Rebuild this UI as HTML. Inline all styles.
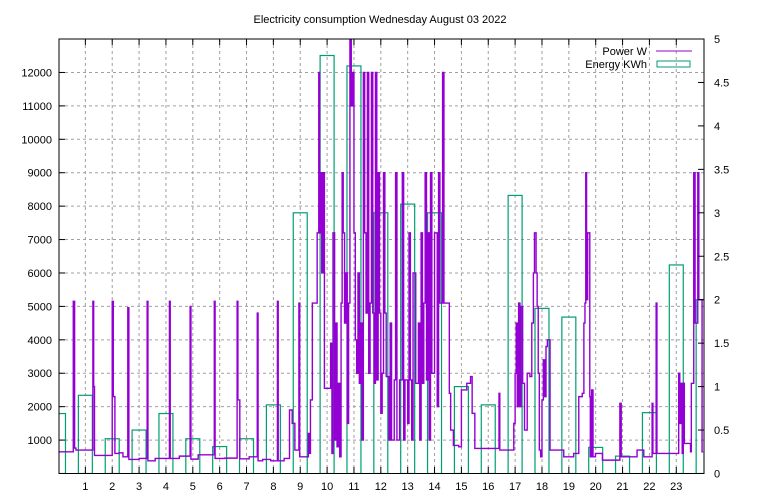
<!DOCTYPE html>
<html><head><meta charset="utf-8"><style>
body{margin:0;background:#fff}
svg{display:block;font-family:"Liberation Sans",sans-serif;font-size:11px}
</style></head><body>
<svg id="chart" width="768" height="500" viewBox="0 0 768 500" xmlns="http://www.w3.org/2000/svg">
<rect width="768" height="500" fill="#fff"/>
<text x="380" y="23" text-anchor="middle">Electricity consumption Wednesday August 03 2022</text>
<defs><clipPath id="plotclip"><rect x="59" y="39" width="645" height="435"/></clipPath></defs>
<g id="grid"></g>
<g id="energy" clip-path="url(#plotclip)"></g>
<g id="power" clip-path="url(#plotclip)"></g>
<rect x="59" y="39" width="645" height="434.5" fill="none" stroke="#000" stroke-width="1"/>
<g id="axes"></g>
<g>
<text x="647" y="55" text-anchor="end">Power W</text>
<line x1="656" y1="51" x2="692" y2="51" stroke="#9400d3" stroke-width="1"/>
<text x="647" y="68" text-anchor="end">Energy KWh</text>
<rect x="657" y="61" width="33" height="6" fill="none" stroke="#009e73" stroke-width="1"/>
</g>
</svg>
<script>
const xTicks=[1,2,3,4,5,6,7,8,9,10,11,12,13,14,15,16,17,18,19,20,21,22,23];
const yTicks=[1000,2000,3000,4000,5000,6000,7000,8000,9000,10000,11000,12000];
const y2Ticks=[0,0.5,1,1.5,2,2.5,3,3.5,4,4.5,5];
const y2Labels=["0","0.5","1","1.5","2","2.5","3","3.5","4","4.5","5"];
const energyHours=[0,1,2,3,4,5,6,7,8,9,10,11,12,13,14,15,16,17,18,19,20,21,22,23,24];
const energyKWh=[0.69,0.9,0.4,0.5,0.69,0.4,0.31,0.4,0.79,3.0,4.81,4.69,3.0,3.1,3.0,1.0,0.79,3.2,1.9,1.8,0.3,0.2,0.7,2.4,2.0];
const powerHours=[
0,0.55,0.6,0.65,0.8,1.28,1.31,1.34,1.95,2.0,2.04,2.1,2.25,2.4,2.58,2.62,2.8,3.0,
3.3,3.33,3.6,4.0,4.13,4.16,4.5,4.9,4.93,5.2,5.8,5.83,6.2,6.65,6.68,6.75,7.1,7.4,7.43,7.6,7.9,8.15,8.18,8.4,8.6,8.7,8.8,
8.95,8.98,9.05,9.3,9.33,9.38,9.45,9.63,9.69,9.72,
9.75,9.8,9.85,9.9,10.13,10.18,10.22,10.28,10.32,10.37,
10.42,10.47,10.52,10.56,10.6,10.65,10.7,10.75,10.8,10.85,
10.9,10.95,11.0,11.05,11.1,11.15,11.2,11.25,11.3,11.35,
11.4,11.45,11.5,11.55,11.6,11.65,11.7,11.75,11.8,11.85,
11.9,11.95,12.0,12.05,12.1,12.15,12.2,12.3,12.35,12.4,
12.5,12.55,12.6,12.7,12.8,12.85,12.9,13.0,13.05,13.1,
13.15,13.2,13.3,13.4,13.45,13.5,13.55,13.6,13.65,13.7,
13.75,13.8,13.85,13.9,14.0,14.1,14.15,14.2,14.3,14.35,
14.55,14.6,14.7,14.9,15.0,15.2,
15.34,15.4,15.5,16.4,16.43,16.95,17.0,17.04,17.08,17.13,
17.18,17.22,17.28,17.35,17.45,17.55,17.62,17.68,17.72,17.78,
17.82,17.86,17.9,17.95,18.0,18.05,18.1,18.15,18.2,18.3,
18.81,19.18,19.37,19.5,19.56,19.6,19.63,19.66,19.7,19.78,
19.8,19.85,19.9,19.99,20.25,20.85,20.9,20.95,21.54,21.79,
22.1,22.13,22.25,22.28,22.84,23.09,23.13,23.17,23.22,23.26,
23.3,23.53,23.56,23.65,23.7,23.8,23.84,23.96];
const powerWatts=[
650,5150,760,700,700,5150,2600,540,540,5150,2300,600,620,500,4960,420,420,450,
5150,380,450,450,5150,450,520,5000,430,560,5150,450,460,5150,2200,440,500,4800,380,420,380,5150,380,450,1900,1500,700,
5100,500,500,1200,600,2200,5100,7200,12000,7200,
9000,6000,9000,2550,3900,600,7200,1000,4500,800,
2700,500,5100,9000,7200,4500,6000,1500,5100,13000,
11000,12000,7200,4000,3000,6000,2700,4500,1000,12000,
7200,4800,12000,3000,5100,12000,4800,2700,12000,2800,
9000,4800,1800,3000,9000,4800,2900,1000,4500,1000,
2800,9000,1000,2800,9000,1000,2800,1500,7200,2800,
1000,6000,2700,4500,1000,7200,2700,5100,9000,2800,
7200,1000,9000,3000,7200,2000,9000,5100,12000,5100,
2400,1300,840,800,2500,2700,
2900,1800,750,2400,700,1500,3000,4500,2000,5100,
2000,5000,2700,1300,3000,2900,4500,6000,7200,6000,
5000,3000,700,500,2200,3400,2300,3800,4000,700,
500,600,2300,2400,4500,5100,9000,5200,7200,2300,
500,2500,500,600,400,400,2100,500,700,500,
2100,600,5100,600,600,3000,1500,2700,600,2700,
900,650,2700,9000,4500,9000,5200,650];

const NS="http://www.w3.org/2000/svg";
const X0=58.5,XW=26.86,Y0=473.5;
function xs(h){return X0+h*XW;}
function yw(w){return Y0-w*0.03342;}
function yk(k){return Y0-k*86.9;}
function mk(tag,attrs,parent){const e=document.createElementNS(NS,tag);for(const k in attrs)e.setAttribute(k,attrs[k]);parent.appendChild(e);return e;}
const grid=document.getElementById('grid'),axes=document.getElementById('axes');
xTicks.forEach(h=>{
  const gl=mk('line',{x1:xs(h),x2:xs(h),y1:39,y2:473,stroke:'#a0a0a0','stroke-dasharray':'3,3','stroke-width':1},grid);
  
  
  const t1=mk('line',{x1:xs(h),x2:xs(h),y1:473,y2:467,stroke:'#000'},axes);
  
  
  const t2=mk('line',{x1:xs(h),x2:xs(h),y1:39,y2:45,stroke:'#000'},axes);
  
  
  const tl=mk('text',{x:xs(h),y:490,'text-anchor':'middle'},axes);
  tl.textContent=String(h);
  
  
});
yTicks.forEach(w=>{
  const gl=mk('line',{x1:59,x2:704,y1:yw(w),y2:yw(w),stroke:'#a0a0a0','stroke-dasharray':'3,3','stroke-width':1},grid);
  
  
  const t=mk('line',{x1:59,x2:65,y1:yw(w),y2:yw(w),stroke:'#000'},axes);
  
  
  const tl=mk('text',{x:52,y:yw(w)+4,'text-anchor':'end'},axes);
  tl.textContent=String(w);
  
  
});
y2Ticks.forEach((k,i)=>{
  const t=mk('line',{x1:698,x2:704,y1:yk(k),y2:yk(k),stroke:'#000'},axes);
  
  
  const tl=mk('text',{x:714,y:yk(k)+4,'text-anchor':'start'},axes);
  tl.textContent=y2Labels[i];
  
  
});
const eg=document.getElementById('energy');
energyHours.forEach((h,i)=>{
  const x1=xs(h-0.26),x2=xs(h+0.26),y=yk(energyKWh[i]);
  const r=mk('rect',{x:x1,y:y,width:x2-x1,height:Y0-y,fill:'none',stroke:'#009e73','stroke-width':1.2},eg);
  
  
});
let d='';
powerHours.forEach((h,i)=>{
  const x=xs(h),y=yw(powerWatts[i]);
  d+= i===0?`M${x},${y}`:`H${x}V${y}`;
});
d+=`H${xs(24)}`;
const pl=mk('path',{d:d,fill:'none',stroke:'#9400d3','stroke-width':1.4},document.getElementById('power'));


</script>
</body></html>
